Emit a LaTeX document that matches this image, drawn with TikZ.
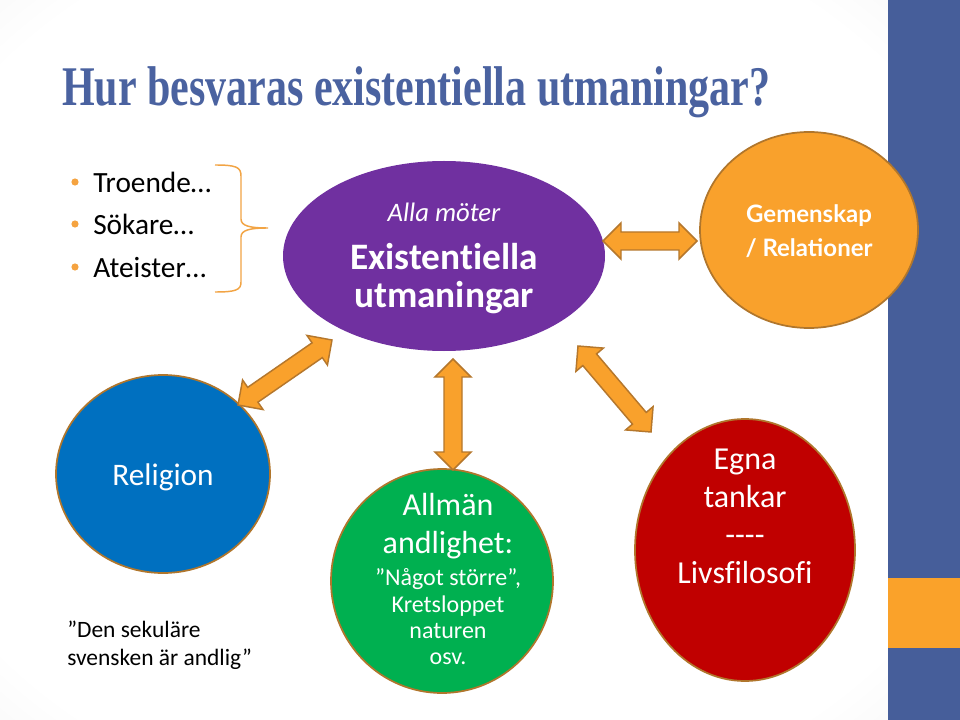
\documentclass[tikz,border=0pt]{standalone}
\usepackage{fontspec}
\setmainfont{Carlito}[Ligatures={NoCommon}, Contextuals={NoAlternate}]
\newfontfamily\titlefont[FakeStretch=0.75]{Liberation Serif}
\newfontfamily\gillfont{Lato}
\usetikzlibrary{calc,shapes.geometric}
\definecolor{titleblue}{HTML}{4A62A0}
\definecolor{barblue}{HTML}{465E9A}
\definecolor{barorange}{HTML}{FAA22A}
\definecolor{arrowfill}{HTML}{F9A12C}
\definecolor{arrowline}{HTML}{B5772C}
\definecolor{rimbrown}{HTML}{B0762C}
\definecolor{bracketorange}{HTML}{F2A444}
\definecolor{bulletorange}{HTML}{F5A340}
\definecolor{cpurple}{HTML}{7030A0}
\definecolor{corange}{HTML}{F9A12C}
\definecolor{cblue}{HTML}{0070C0}
\definecolor{cgreen}{HTML}{00B050}
\definecolor{cred}{HTML}{C00000}
\pgfdeclareradialshading{vignette}{\pgfpoint{0bp}{0bp}}{color(0bp)=(white); color(32bp)=(white); color(50bp)=(black!9); color(72bp)=(black!20)}
\newcommand{\ahl}{13.5pt}
\newcommand{\ahw}{13.5pt}
\newcommand{\asw}{6.75pt}
\newcommand{\dblarrow}[2]{%
  \draw[blockarrow] (#1) -- ($(#1)!\ahl!(#2)!\ahw!90:(#2)$) -- ($(#1)!\ahl!(#2)!\asw!90:(#2)$)
   -- ($(#2)!\ahl!(#1)!\asw!-90:(#1)$) -- ($(#2)!\ahl!(#1)!\ahw!-90:(#1)$) -- (#2)
   -- ($(#2)!\ahl!(#1)!\ahw!90:(#1)$) -- ($(#2)!\ahl!(#1)!\asw!90:(#1)$)
   -- ($(#1)!\ahl!(#2)!\asw!-90:(#2)$) -- ($(#1)!\ahl!(#2)!\ahw!-90:(#2)$) -- cycle;}
\tikzset{
  blockarrow/.style={fill=arrowfill, draw=arrowline, line width=1.1pt, line join=miter},
  blob/.style={ellipse, inner sep=0pt, draw=rimbrown, line width=1.3pt},
  txt/.style={anchor=base, inner sep=0pt, text=white},
  btxt/.style={anchor=base west, inner sep=0pt, text=black}
}
\begin{document}
\begin{tikzpicture}[x=0.75pt,y=-0.75pt]
\useasboundingbox (0,0) rectangle (960,720);
% background
\shade[shading=vignette] (0,0) rectangle (888,720);
\fill[barblue] (888,0) rectangle (960,720);
\fill[barorange] (888,578) rectangle (960,648);
% title
\node[anchor=base west, inner sep=0pt, text=titleblue, font=\titlefont\bfseries\fontsize{42}{46}\selectfont] (title) at (62,106) {Hur besvaras existentiella utmaningar?};
% bullets
\foreach \yy/\dy/\lab/\nm in {193/182/Troende…/b1, 235/224/Sökare…/b2, 277/267/Ateister…/b3}{
  \fill[bulletorange] (75,\dy) circle (3.6);
  \node[btxt, font=\fontsize{22}{26}\selectfont] (\nm) at (93,\yy) {\lab};
}
% bracket
\draw[bracketorange, line width=1.1pt] (215,165) .. controls (236,165) and (241,167) .. (241,176)
  -- (241,219) .. controls (241,226) and (250,228) .. (268,228)
  .. controls (250,228) and (241,230) .. (241,237)
  -- (241,282) .. controls (241,290) and (236,292) .. (215,292);
% ellipses
\node[ellipse, inner sep=0pt, fill=cpurple, minimum width=241.5pt, minimum height=142.5pt] (purple) at (444,256) {};
\node[blob, fill=corange, minimum width=163.5pt, minimum height=147pt] (orange) at (809,230) {};
\node[blob, fill=cblue, minimum width=160.5pt, minimum height=148.5pt] (blue) at (163,474) {};
\node[blob, fill=cgreen, minimum width=166.5pt, minimum height=168pt] (green) at (442,581) {};
\node[blob, fill=cred, minimum width=165pt, minimum height=196.5pt] (red) at (745,550) {};
% purple text
\node[txt, font=\fontsize{20}{24}\selectfont\itshape] (p1) at (444,222) {Alla möter};
\node[txt, font=\fontsize{28}{32}\selectfont\bfseries] (p2) at (444,270) {Existentiella};
\node[txt, font=\fontsize{28}{32}\selectfont\bfseries] (p3) at (444,307) {utmaningar};
% orange text
\node[txt, font=\gillfont\bfseries\fontsize{18}{22}\selectfont] (o1) at (809,223) {Gemenskap};
\node[txt, font=\gillfont\bfseries\fontsize{18}{22}\selectfont] (o2) at (809,257) {/ Relationer};
% blue text
\node[txt, font=\fontsize{23.5}{28}\selectfont] (r1) at (163,485) {Religion};
\node[btxt, font=\fontsize{17.6}{21}\selectfont] (q1) at (67,637) {”Den sekuläre};
\node[btxt, font=\fontsize{17.6}{21}\selectfont] (q2) at (67,665) {svensken är andlig”};
% green text
\node[txt, font=\fontsize{24}{28}\selectfont] (g1) at (448,515) {Allmän};
\node[txt, font=\fontsize{24}{28}\selectfont] (g2) at (448,553) {andlighet:};
\node[txt, font=\fontsize{18}{22}\selectfont] (g3) at (448,585) {”Något större”,};
\node[txt, font=\fontsize{18}{22}\selectfont] (g4) at (448,612) {Kretsloppet};
\node[txt, font=\fontsize{18}{22}\selectfont] (g5) at (448,638) {naturen};
\node[txt, font=\fontsize{18}{22}\selectfont] (g6) at (448,664) {osv.};
% red text
\node[txt, font=\fontsize{24}{28}\selectfont] (e1) at (745,469) {Egna};
\node[txt, font=\fontsize{24}{28}\selectfont] (e2) at (745,507) {tankar};
\node[txt, font=\fontsize{24}{28}\selectfont] (e3) at (745,545) {-{}-{}-{}-};
\node[txt, font=\fontsize{24}{28}\selectfont] (e4) at (745,583) {Livsfilosofi};
% arrows
\coordinate (ha) at (603,241);
\coordinate (hb) at (697,241);
\coordinate (va) at (453,359);
\coordinate (vb) at (453,470);
\coordinate (la) at (332,340);
\coordinate (lb) at (238,405);
\coordinate (ra) at (578,346);
\coordinate (rb) at (651,432);
\dblarrow{ha}{hb}
\dblarrow{va}{vb}
\dblarrow{la}{lb}
\dblarrow{ra}{rb}
\end{tikzpicture}
\end{document}
